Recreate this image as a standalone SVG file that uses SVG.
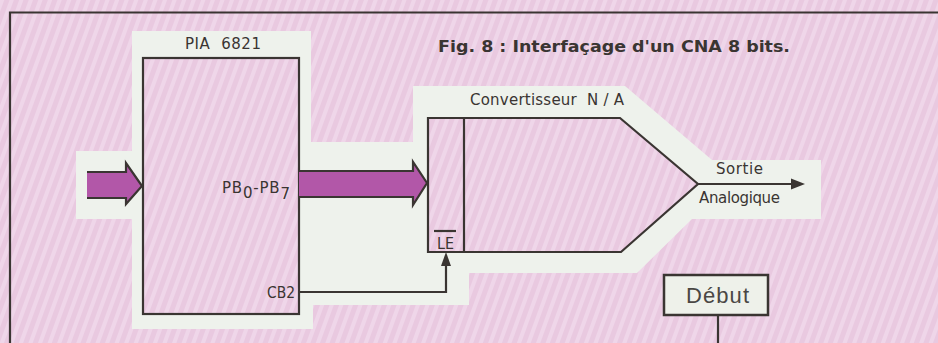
<svg xmlns="http://www.w3.org/2000/svg" width="938" height="343" viewBox="0 0 938 343">
<defs>
<pattern id="stripes" width="9" height="9" patternUnits="userSpaceOnUse" patternTransform="rotate(20)">
<rect width="9" height="9" fill="#e9c9e0"/>
<rect width="4" height="9" fill="#efd6e9"/>
</pattern>
</defs>
<style>
.ln{fill:none;stroke:#3a3532;stroke-width:2.2;stroke-linejoin:miter}
.bx{fill:url(#stripes);stroke:#3a3532;stroke-width:2.2;stroke-linejoin:miter}
.tech{font-family:"DejaVu Sans","Liberation Sans",sans-serif;font-size:15px;fill:#3a3532}
.fat{fill:#b257a8}
</style>
<rect width="938" height="343" fill="url(#stripes)"/>
<g id="halo">
<path d="M132,31 H311 V142 H413 V86 H625 L712,160 H821 V219 H692 L637,273 H469 V305 H313 V329 H132 V219 H76 V151 H132 Z" fill="#eef2ec"/>
</g>
<g id="frame">
<path class="ln" d="M10,343 V12.5 H938"/>
</g>
<g id="title">
<text x="438" y="52" font-family="'DejaVu Sans','Liberation Sans',sans-serif" font-weight="bold" font-size="16" fill="#3a3532" textLength="352" lengthAdjust="spacingAndGlyphs">Fig. 8 : Interfaçage d'un CNA 8 bits.</text>
</g>
<g id="pia">
<rect class="bx" x="143" y="58" width="156" height="256"/>
<text class="tech" x="185" y="49" font-size="16" textLength="76" lengthAdjust="spacing" xml:space="preserve">PIA  6821</text>
<text class="tech" x="222" y="193" font-size="16.5" letter-spacing="0.8">PB<tspan dy="5">0</tspan><tspan dy="-5">-PB</tspan><tspan dy="6">7</tspan></text>
<text class="tech" x="267" y="298" font-size="16" textLength="28" lengthAdjust="spacingAndGlyphs">CB2</text>
</g>
<g id="converter">
<path class="bx" d="M428,118 H620 L698,184 L621,252 H428 Z"/>
<path class="ln" d="M464,118 V252"/>
<text class="tech" x="470" y="105" textLength="154" lengthAdjust="spacing" xml:space="preserve">Convertisseur  N / A</text>
<text class="tech" x="437" y="249" font-size="13" textLength="17" lengthAdjust="spacingAndGlyphs">LE</text>
<path class="ln" d="M434,231 H456" stroke-width="1.6"/>
</g>
<g id="debut">
<rect x="664" y="275" width="104" height="40" fill="#eef1ea" stroke="#3a3532" stroke-width="2.5"/>
<text x="686" y="303" font-family="'Liberation Sans',Arial,sans-serif" font-size="22" fill="#4a4744" textLength="63" lengthAdjust="spacing">Début</text>
</g>
<g id="connectors">
<path class="fat" d="M87,172 H126 V163 L142,186 L126,204 V198 H87 Z"/>
<path class="ln" d="M87,172 H126 V163 L142,186 L126,204 V198 H87"/>
<path class="fat" d="M299,171 H413 V162 L427,183 L413,205 V197 H299 Z"/>
<path class="ln" d="M299,171 H413 V162 L427,183 L413,205 V197 H299"/>
<path class="ln" d="M299,292 H446 V262"/>
<polygon points="441,266 446,252 451,266" fill="#3a3532"/>
<path class="ln" d="M698,184 H792"/>
<polygon points="791,178.5 805,184 791,189.5" fill="#3a3532"/>
<text class="tech" x="716" y="174" textLength="47" lengthAdjust="spacing">Sortie</text>
<text class="tech" x="699" y="203" textLength="81" lengthAdjust="spacing">Analogique</text>
<path class="ln" d="M718,315 V343"/>
</g>
</svg>
